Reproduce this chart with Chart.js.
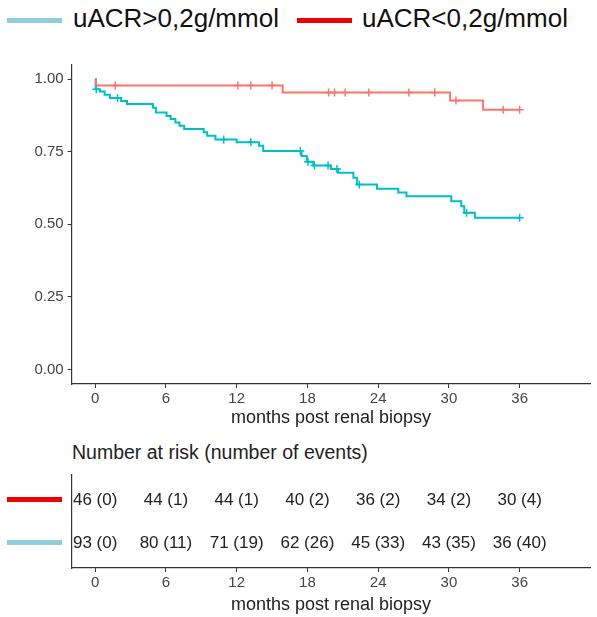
<!DOCTYPE html>
<html lang="en">
<head>
    <meta charset="UTF-8">
    <title>Survival by uACR</title>
    <style>
        * { margin: 0; padding: 0; box-sizing: border-box; }

        body {
            width: 597px;
            height: 617px;
            background: #fff;
            position: relative;
            overflow: hidden;
            font-family: 'Liberation Sans', Arial, sans-serif;
        }

        canvas { position: absolute; left: 0; }
        #km-chart { top: 0; }
        #risk-chart { top: 430px; }

        /* legend on top */
        .swatch {
            position: absolute;
            width: 55px;
            height: 5px;
        }
        .legend-text {
            position: absolute;
            top: 5px;
            font-size: 26px;
            line-height: 26px;
            color: #111;
            white-space: nowrap;
        }
        .high { background: #92cddc; }
        .low { background: #ee0000; }

        #risk-title {
            position: absolute;
            left: 72px;
            top: 442px;
            font-size: 19.5px;
            line-height: 20px;
            color: #222;
            white-space: nowrap;
        }
    </style>
</head>
<body>
    <div class="swatch high" style="left:7px; top:18px;"></div>
    <div class="legend-text" style="left:73px;">uACR&gt;0,2g/mmol</div>
    <div class="swatch low" style="left:297px; top:18px;"></div>
    <div class="legend-text" style="left:362px;">uACR&lt;0,2g/mmol</div>

    <canvas id="km-chart" width="597" height="430"></canvas>

    <div id="risk-title">Number at risk (number of events)</div>
    <div class="swatch low" style="left:7px; top:497px;"></div>
    <div class="swatch high" style="left:7px; top:540px;"></div>
    <canvas id="risk-chart" width="597" height="187"></canvas>

    <script src="https://cdn.jsdelivr.net/npm/chart.js"></script>
    <script>
        // Kaplan-Meier steps: time in months, survival after each event
        const lowTimes = [0, 0.05, 15.9, 30.1, 32.9, 36];
        const lowSurv = [1, 0.978, 0.954, 0.926, 0.894, 0.894];
        const lowCensored = [1.7, 12.1, 13.2, 15.0, 19.8, 20.3, 21.2, 23.2, 26.6, 28.8, 30.6, 34.6, 36.0];

        const highTimes = [0, 0.05, 0.4, 0.8, 1.25, 2.2, 2.7, 4.9, 5.15, 6.05, 6.4, 6.8, 7.15, 7.55,
            9.2, 9.5, 10.2, 12.0, 13.9, 14.25, 17.5, 17.95, 18.5, 20.0, 20.6, 21.9, 22.2, 23.9,
            25.7, 26.4, 30.2, 31.05, 31.3, 32.2, 36];
        const highSurv = [1, 0.965, 0.957, 0.946, 0.935, 0.924, 0.914, 0.901, 0.885, 0.873, 0.862, 0.850, 0.839, 0.828,
            0.817, 0.805, 0.792, 0.782, 0.770, 0.752, 0.735, 0.715, 0.702, 0.690, 0.677, 0.660, 0.637, 0.622,
            0.609, 0.596, 0.579, 0.562, 0.540, 0.522, 0.522];
        const highCensored = [0.1, 1.9, 10.9, 13.2, 17.4, 18.05, 18.6, 19.75, 20.5, 22.4, 31.5, 36.0];

        // risk table
        const riskTimes = [0, 6, 12, 18, 24, 30, 36];
        const lowAtRisk = [46, 44, 44, 40, 36, 34, 30];
        const lowEvents = [0, 1, 1, 2, 2, 2, 4];
        const highAtRisk = [93, 80, 71, 62, 45, 43, 36];
        const highEvents = [0, 11, 19, 26, 33, 35, 40];

        const yTicks = [0, 0.25, 0.5, 0.75, 1];

        const RED = '#f8766d';
        const CYAN = '#00bfc4';
        const AXIS = '#333';
        const FONT = "'Liberation Sans', Arial, sans-serif";

        Chart.defaults.font.family = FONT;

        function survAt(times, surv, t) {
            let s = surv[0];
            for (let i = 0; i < times.length; i++) {
                if (times[i] <= t) s = surv[i];
            }
            return s;
        }

        function stepData(times, surv) {
            return times.map((t, i) => ({ x: t, y: surv[i] }));
        }

        function censorData(times, surv, cens) {
            return cens.map(t => ({ x: t, y: survAt(times, surv, t) }));
        }

        const monthTicks = () => riskTimes.map(v => ({ value: v }));

        function xAxis(height) {
            return {
                type: 'linear',
                min: -2,
                max: 42,
                afterBuildTicks: s => { s.ticks = monthTicks(); },
                afterFit: s => { s.height = height; },
                grid: { drawOnChartArea: false, drawTicks: true, tickLength: 4, color: AXIS },
                border: { display: true, color: AXIS, width: 1.2 },
                ticks: { color: '#444', font: { size: 15 }, padding: 2, maxRotation: 0 },
                title: {
                    display: true,
                    text: 'months post renal biopsy',
                    color: '#222',
                    font: { size: 18, lineHeight: 1.2 },
                    padding: { top: 0, bottom: 1 }
                }
            };
        }

        new Chart(document.getElementById('km-chart'), {
            type: 'scatter',
            data: {
                datasets: [
                    {
                        data: stepData(lowTimes, lowSurv),
                        showLine: true, stepped: 'before',
                        borderColor: RED, borderWidth: 2, pointRadius: 0
                    },
                    {
                        data: stepData(highTimes, highSurv),
                        showLine: true, stepped: 'before',
                        borderColor: CYAN, borderWidth: 2, pointRadius: 0
                    },
                    {
                        data: censorData(lowTimes, lowSurv, lowCensored),
                        pointStyle: 'cross', pointRadius: 4, borderColor: RED, borderWidth: 1.5
                    },
                    {
                        data: censorData(highTimes, highSurv, highCensored),
                        pointStyle: 'cross', pointRadius: 4, borderColor: CYAN, borderWidth: 1.5
                    }
                ]
            },
            options: {
                responsive: false,
                animation: false,
                devicePixelRatio: 1,
                layout: { padding: { top: 64.5, right: 6.6, left: 0, bottom: 0 } },
                plugins: { legend: { display: false }, tooltip: { enabled: false } },
                scales: {
                    x: xAxis(46),
                    y: {
                        type: 'linear',
                        min: -0.05,
                        max: 1.05,
                        afterBuildTicks: s => { s.ticks = yTicks.map(v => ({ value: v })); },
                        afterFit: s => { s.width = 71.6; },
                        grid: { drawOnChartArea: false, drawTicks: true, tickLength: 4, color: AXIS },
                        border: { display: true, color: AXIS, width: 1.2 },
                        ticks: {
                            color: '#444', font: { size: 15 }, padding: 4,
                            callback: v => v.toFixed(2)
                        }
                    }
                }
            }
        });

        // writes "n (events)" at each risk-table point
        const riskLabels = {
            id: 'riskLabels',
            afterDatasetsDraw(chart) {
                const ctx = chart.ctx;
                ctx.save();
                ctx.font = '17px ' + FONT;
                ctx.fillStyle = '#222';
                ctx.textAlign = 'center';
                ctx.textBaseline = 'middle';
                chart.data.datasets.forEach((ds, i) => {
                    chart.getDatasetMeta(i).data.forEach((pt, j) => {
                        ctx.fillText(ds.atRisk[j] + ' (' + ds.events[j] + ')', pt.x, pt.y);
                    });
                });
                ctx.restore();
            }
        };

        new Chart(document.getElementById('risk-chart'), {
            type: 'scatter',
            data: {
                datasets: [
                    { data: riskTimes.map(t => ({ x: t, y: 2 })), atRisk: lowAtRisk, events: lowEvents, pointRadius: 0 },
                    { data: riskTimes.map(t => ({ x: t, y: 1 })), atRisk: highAtRisk, events: highEvents, pointRadius: 0 }
                ]
            },
            options: {
                responsive: false,
                animation: false,
                devicePixelRatio: 1,
                layout: { padding: { top: 45, right: 6.6, left: 0, bottom: 0 } },
                plugins: { legend: { display: false }, tooltip: { enabled: false } },
                scales: {
                    x: xAxis(49),
                    y: {
                        type: 'linear',
                        min: 0.42,
                        max: 2.58,
                        afterFit: s => { s.width = 71.6; },
                        grid: { display: false },
                        border: { display: true, color: AXIS, width: 1.2 },
                        ticks: { display: false }
                    }
                }
            },
            plugins: [riskLabels]
        });
    </script>
</body>
</html>
